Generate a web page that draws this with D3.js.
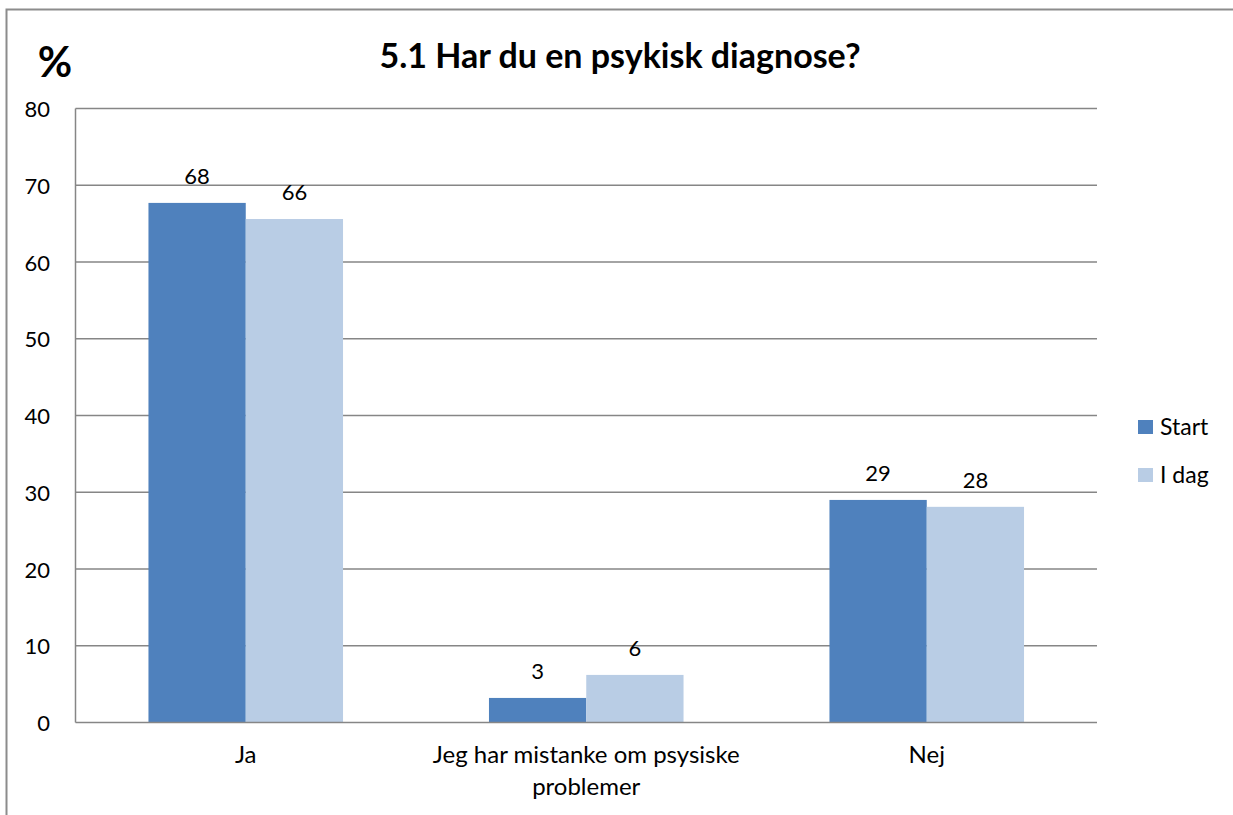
<!DOCTYPE html>
<html><head><meta charset="utf-8">
<script src="https://cdn.jsdelivr.net/npm/d3@7"></script>
<style>body{margin:0;background:#fff;} svg{display:block;font-family:Lato, "Open Sans", sans-serif;}</style>
</head><body>
<svg id="c" width="1233" height="815"></svg>
<script>
const categories = ["Ja", "Jeg har mistanke om psysiske problemer", "Nej"];
const seriesNames = ["Start", "I dag"];
const startValues = [67.7, 3.2, 29.0];
const idagValues = [65.6, 6.2, 28.1];
const startLabels = ["68", "3", "29"];
const idagLabels = ["66", "6", "28"];
const yTicks = [0, 10, 20, 30, 40, 50, 60, 70, 80];
const colors = ["#4F81BD", "#B9CDE5"];

(function() {
const svg = d3.select("#c");
const pLeft = 75.5, pRight = 1097, pTop = 108.5, pBottom = 722.5;

svg.append("rect").attr("x", 6.5).attr("y", 9.5).attr("width", 1240).attr("height", 820)
  .attr("fill", "none").attr("stroke", "#8c8c8c").attr("stroke-width", 2);

const x0 = d3.scaleBand().domain(categories).range([pLeft, pRight]).paddingInner(0).paddingOuter(0);
const y = d3.scaleLinear().domain([0, 80]).range([pBottom, pTop]);
const gapFrac = 1.5 / (2 + 1.5);
const x1 = d3.scaleBand().domain(seriesNames).range([x0.bandwidth() * gapFrac / 2, x0.bandwidth() * (1 - gapFrac / 2)]).padding(0);

// gridlines
svg.append("g").selectAll("line").data(yTicks.filter(t => t > 0)).join("line")
  .attr("x1", pLeft).attr("x2", pRight).attr("y1", d => y(d)).attr("y2", d => y(d))
  .attr("stroke", "#868686").attr("stroke-width", 1.3);

// y tick labels
svg.append("g").selectAll("text").data(yTicks).join("text")
  .attr("x", 50).attr("y", d => y(d) + 8.5).attr("text-anchor", "end")
  .attr("font-size", 22).attr("fill", "#000").text(d => d);

const data = categories.map((c, i) => ({
  cat: c,
  vals: [{s: seriesNames[0], v: startValues[i], l: startLabels[i]}, {s: seriesNames[1], v: idagValues[i], l: idagLabels[i]}]
}));

const g = svg.append("g").selectAll("g").data(data).join("g")
  .attr("transform", d => `translate(${x0(d.cat)},0)`);
g.selectAll("rect").data(d => d.vals).join("rect")
  .attr("x", d => x1(d.s)).attr("width", x1.bandwidth())
  .attr("y", d => y(d.v)).attr("height", d => y(0) - y(d.v))
  .attr("fill", (d, i) => colors[i]);
g.selectAll("text").data(d => d.vals).join("text")
  .attr("x", d => x1(d.s) + x1.bandwidth() / 2).attr("y", d => y(d.v) - 19)
  .attr("text-anchor", "middle").attr("font-size", 22).attr("fill", "#000").text(d => d.l);

// axes lines
svg.append("line").attr("x1", pLeft).attr("x2", pLeft).attr("y1", pTop).attr("y2", pBottom)
  .attr("stroke", "#868686").attr("stroke-width", 1.5);
svg.append("line").attr("x1", pLeft).attr("x2", pRight).attr("y1", pBottom).attr("y2", pBottom)
  .attr("stroke", "#868686").attr("stroke-width", 1.5);

// category labels
const catLines = [["Ja"], ["Jeg har mistanke om psysiske", "problemer"], ["Nej"]];
svg.append("g").selectAll("text").data(categories).join("text")
  .attr("x", d => x0(d) + x0.bandwidth() / 2).attr("y", 763)
  .attr("text-anchor", "middle").attr("font-size", 24).attr("fill", "#000")
  .each(function(d, i) {
    d3.select(this).selectAll("tspan").data(catLines[i]).join("tspan")
      .attr("x", x0(d) + x0.bandwidth() / 2).attr("dy", (t, j) => j === 0 ? 0 : 32).text(t => t);
  });

// title
svg.append("text").attr("x", 620).attr("y", 68).attr("text-anchor", "middle")
  .attr("font-size", 34).attr("font-weight", "bold").text("5.1 Har du en psykisk diagnose?");
svg.append("text").attr("x", 55).attr("y", 77).attr("text-anchor", "middle")
  .attr("font-size", 42).attr("font-weight", "bold").text("%");

// legend
const leg = svg.append("g").selectAll("g").data(seriesNames).join("g")
  .attr("transform", (d, i) => `translate(1138,${420 + i * 48})`);
leg.append("rect").attr("width", 15).attr("height", 14).attr("fill", (d, i) => colors[i]);
leg.append("text").attr("x", 22).attr("y", 15).attr("font-size", 23).text(d => d);
})();
</script>
</body></html>
